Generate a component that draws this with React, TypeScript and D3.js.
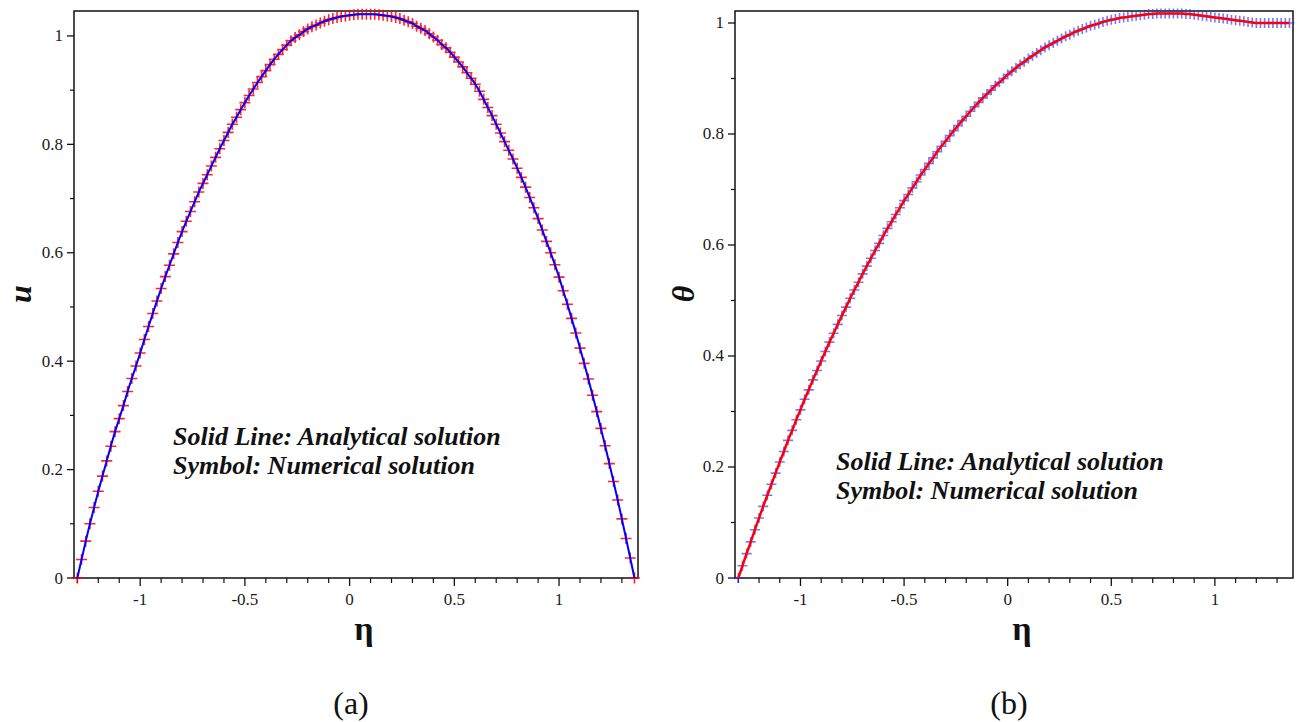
import React from 'react';
import * as d3 from 'd3';

// grid of eta values: start -1.30, step 0.02 (134 points)
const ETA_START = -1.3;
const ETA_STEP = 0.02;

// (a) velocity u(eta)
const uValues = [
  0, 0.034, 0.068, 0.100, 0.130, 0.160, 0.188, 0.216, 0.243, 0.270,
  0.294, 0.318, 0.344, 0.368, 0.391, 0.415, 0.440, 0.464, 0.488, 0.511,
  0.534, 0.556, 0.577, 0.598, 0.619, 0.639, 0.658, 0.676, 0.694, 0.712,
  0.728, 0.744, 0.760, 0.776, 0.792, 0.807, 0.822, 0.837, 0.850, 0.864,
  0.877, 0.890, 0.902, 0.914, 0.925, 0.936, 0.947, 0.957, 0.966, 0.975,
  0.983, 0.991, 0.997, 1.002, 1.008, 1.013, 1.017, 1.020, 1.024, 1.027,
  1.030, 1.032, 1.034, 1.036, 1.037, 1.038, 1.039, 1.040, 1.040, 1.040,
  1.040, 1.040, 1.039, 1.038, 1.037, 1.036, 1.034, 1.032, 1.029, 1.026,
  1.023, 1.018, 1.014, 1.010, 1.004, 0.998, 0.992, 0.984, 0.978, 0.970,
  0.961, 0.952, 0.943, 0.932, 0.922, 0.911, 0.898, 0.883, 0.868, 0.853,
  0.837, 0.821, 0.805, 0.789, 0.773, 0.756, 0.739, 0.721, 0.702, 0.683,
  0.663, 0.642, 0.621, 0.600, 0.578, 0.555, 0.530, 0.505, 0.479, 0.452,
  0.424, 0.396, 0.367, 0.337, 0.307, 0.276, 0.244, 0.211, 0.178, 0.144,
  0.109, 0.073, 0.037, 0,
];

// (b) temperature theta(eta)
const thetaValues = [
  0, 0.022, 0.044, 0.065, 0.087, 0.108, 0.129, 0.149, 0.169, 0.189,
  0.209, 0.228, 0.248, 0.266, 0.285, 0.303, 0.322, 0.339, 0.357, 0.374,
  0.391, 0.408, 0.425, 0.441, 0.457, 0.473, 0.488, 0.504, 0.519, 0.533,
  0.548, 0.562, 0.576, 0.590, 0.603, 0.617, 0.630, 0.642, 0.655, 0.667,
  0.680, 0.691, 0.703, 0.714, 0.726, 0.736, 0.747, 0.757, 0.768, 0.778,
  0.787, 0.797, 0.806, 0.815, 0.824, 0.832, 0.841, 0.849, 0.857, 0.865,
  0.872, 0.879, 0.887, 0.893, 0.900, 0.907, 0.913, 0.919, 0.925, 0.930,
  0.936, 0.941, 0.946, 0.951, 0.956, 0.960, 0.964, 0.968, 0.972, 0.976,
  0.979, 0.983, 0.986, 0.989, 0.992, 0.995, 0.997, 0.999, 1.002, 1.004,
  1.006, 1.007, 1.009, 1.010, 1.011, 1.012, 1.013, 1.014, 1.015, 1.016,
  1.016, 1.017, 1.017, 1.017, 1.017, 1.017,
  1.017, 1.017, 1.016, 1.016, 1.015, 1.014, 1.013, 1.012, 1.011, 1.010,
  1.009, 1.008, 1.007, 1.006, 1.005, 1.004, 1.003, 1.002, 1.001, 1.000,
  1.000, 1.000, 1.000, 1.000, 1.000, 1.000, 1.000, 1.000,
];

const xDomain = [-1.316, 1.377];
const xMajorTicks = [-1, -0.5, 0, 0.5, 1];
const xTickLabels = ['-1', '-0.5', '0', '0.5', '1'];
const xMinorTicks = [-1.3, -1.2, -1.1, -0.9, -0.8, -0.7, -0.6, -0.4, -0.3, -0.2, -0.1, 0.1, 0.2, 0.3, 0.4, 0.6, 0.7, 0.8, 0.9, 1.1, 1.2, 1.3];
const yMajorTicks = [0, 0.2, 0.4, 0.6, 0.8, 1];
const yTickLabels = ['0', '0.2', '0.4', '0.6', '0.8', '1'];
const yMinorTicks = [0.1, 0.3, 0.5, 0.7, 0.9];
const noteLines = ['Solid Line: Analytical solution', 'Symbol: Numerical solution'];

const FONT = "'Liberation Serif', 'Times New Roman', Times, serif";

type PanelProps = {
  x0: number; x1: number; y0: number; y1: number; yMax: number;
  values: number[]; lineColor: string; markerColor: string; markerOpacity: number;
  markerSize: number; lineWidth: number;
  yLabel: string; yLabelX: number; caption: string;
  noteX: number; noteY: number;
};

function Panel(p: PanelProps) {
  const x = d3.scaleLinear().domain(xDomain).range([p.x0, p.x1]);
  const y = d3.scaleLinear().domain([0, p.yMax]).range([p.y1, p.y0]);
  const data = p.values.map((v, i) => ({ eta: ETA_START + i * ETA_STEP, v }));
  const line = d3.line<{ eta: number; v: number }>()
    .x(d => x(d.eta)).y(d => y(d.v)).curve(d3.curveMonotoneX);
  const h = p.markerSize / 2;
  const markers = data.map(d => {
    const cx = x(d.eta), cy = y(d.v);
    return `M${cx - h},${cy}h${p.markerSize}M${cx},${cy - h}v${p.markerSize}`;
  }).join('');
  const cxMid = (p.x0 + p.x1) / 2;
  return (
    <g>
      <rect x={p.x0} y={p.y0} width={p.x1 - p.x0} height={p.y1 - p.y0} fill="white" stroke="#111" strokeWidth={1.5} />
      {xMajorTicks.map((t, i) => (
        <g key={'xm' + i}>
          <line x1={x(t)} x2={x(t)} y1={p.y1} y2={p.y1 + 8} stroke="#111" strokeWidth={1.3} />
          <text x={x(t)} y={p.y1 + 27} textAnchor="middle" style={{ fontFamily: FONT }} fontSize={17} fill="#1a1a1a">{xTickLabels[i]}</text>
        </g>
      ))}
      {xMinorTicks.map((t, i) => (
        <line key={'xn' + i} x1={x(t)} x2={x(t)} y1={p.y1} y2={p.y1 + 5} stroke="#111" strokeWidth={1.2} />
      ))}
      {yMajorTicks.map((t, i) => (
        <g key={'ym' + i}>
          <line x1={p.x0 - 7} x2={p.x0} y1={y(t)} y2={y(t)} stroke="#111" strokeWidth={1.3} />
          <text x={p.x0 - 11} y={y(t) + 5.5} textAnchor="end" style={{ fontFamily: FONT }} fontSize={17} fill="#1a1a1a">{yTickLabels[i]}</text>
        </g>
      ))}
      {yMinorTicks.map((t, i) => (
        <line key={'yn' + i} x1={p.x0 - 4} x2={p.x0} y1={y(t)} y2={y(t)} stroke="#111" strokeWidth={1.2} />
      ))}
      <path d={markers} stroke={p.markerColor} strokeOpacity={p.markerOpacity} strokeWidth={1.6} fill="none" />
      <path d={line(data) || ''} stroke={p.lineColor} strokeWidth={p.lineWidth} fill="none" />
      <text style={{ fontFamily: FONT }} fontSize={26} fontWeight="bold" fontStyle="italic" fill="#111">
        {noteLines.map((s, i) => (
          <tspan key={i} x={p.noteX} y={p.noteY + i * 29}>{s}</tspan>
        ))}
      </text>
      <text transform={`translate(${p.yLabelX},294) rotate(-90)`} textAnchor="middle" style={{ fontFamily: FONT }} fontSize={32} fontWeight="bold" fontStyle="italic" fill="#111">{p.yLabel}</text>
      <text x={cxMid + 8} y={640} textAnchor="middle" style={{ fontFamily: FONT }} fontSize={34} fontWeight="bold" fill="#111">η</text>
      <text x={cxMid - 5} y={714} textAnchor="middle" style={{ fontFamily: FONT }} fontSize={32} fill="#111">{p.caption}</text>
    </g>
  );
}

export default function App() {
  return (
    <svg width={1298} height={722} style={{ position: 'absolute', left: 0, top: 0, background: 'white' }}>
      <rect width={1298} height={722} fill="white" />
      <Panel x0={74} x1={638} y0={11} y1={578} yMax={1.046} values={uValues}
        lineColor="#0000ff" markerColor="#ff0000" markerOpacity={0.85} markerSize={11} lineWidth={2}
        yLabel="u" yLabelX={31} caption="(a)" noteX={173} noteY={445} />
      <Panel x0={735} x1={1293} y0={11} y1={578} yMax={1.0216} values={thetaValues}
        lineColor="#ff0000" markerColor="#3030ff" markerOpacity={0.65} markerSize={10} lineWidth={2.5}
        yLabel="θ" yLabelX={694} caption="(b)" noteX={836} noteY={470} />
    </svg>
  );
}
